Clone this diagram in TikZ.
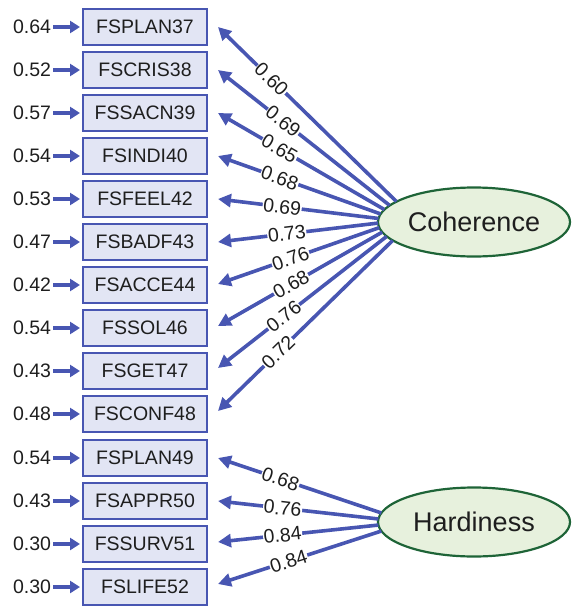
\documentclass[tikz,border=0pt]{standalone}
\usepackage{fontspec}
\setmainfont{Liberation Sans}
\usetikzlibrary{arrows.meta,shapes.geometric,calc}
\definecolor{pathblue}{RGB}{72,86,178}
\definecolor{boxfill}{RGB}{226,229,244}
\definecolor{latfill}{RGB}{231,241,221}
\definecolor{latline}{RGB}{30,100,55}
\definecolor{ink}{RGB}{30,30,30}
\begin{document}
\begin{tikzpicture}[x=1pt,y=-1pt,
  indicator/.style={draw=pathblue, line width=2pt, fill=boxfill,
    minimum width=124pt, minimum height=36pt, inner sep=0pt,
    font=\fontsize{19.5}{22}\selectfont, text=ink},
  latent/.style={ellipse, draw=latline, line width=2.2pt, fill=latfill,
    minimum width=192pt, minimum height=69pt, inner sep=0pt,
    font=\fontsize{27}{30}\selectfont, text=ink},
  errlabel/.style={font=\fontsize{19.5}{22}\selectfont, text=ink, inner sep=2pt},
  errarrow/.style={draw=pathblue, line width=3.6pt, -{Triangle[length=10pt,width=12pt]}},
  loading/.style={draw=pathblue, line width=3.6pt, -{Triangle[length=13pt,width=13pt]}},
  coef/.style={sloped, fill=white, inner sep=0.6pt,
    font=\fontsize{19.5}{22}\selectfont, text=ink}
]
\useasboundingbox (0,0) rectangle (572,608);

% latent factors
\node[latent] (coh) at (474,222) {Coherence};
\node[latent] (har) at (474,522) {Hardiness};

% indicators with their error variances
\foreach \n/\y/\e [count=\i] in {
  FSPLAN37/27/0.64, FSCRIS38/70/0.52, FSSACN39/113/0.57, FSINDI40/156/0.54,
  FSFEEL42/199/0.53, FSBADF43/242/0.47, FSACCE44/285/0.42, FSSOL46/328/0.54,
  FSGET47/371/0.43, FSCONF48/414/0.48, FSPLAN49/458/0.54, FSAPPR50/501/0.43,
  FSSURV51/544/0.30, FSLIFE52/587/0.30} {
  \node[indicator] (b\i) at (145,\y) {\n};
  \node[errlabel] (e\i) at (32,\y) {\e};
  \draw[errarrow] (e\i.east) -- ([xshift=-2pt]b\i.west);
}

% loadings of Coherence
\foreach \i/\ang/\c/\p/\dy in {
  1/144/0.60/0.70/0, 2/151.6/0.69/0.62/0, 3/159.1/0.65/0.63/0,
  4/166.7/0.68/0.62/0, 5/174.2/0.69/0.60/0, 6/181.8/0.73/0.57/0,
  7/189.3/0.76/0.55/1, 8/196.9/0.68/0.555/2, 9/204.4/0.76/0.61/3,
  10/212/0.72/0.655/3} {
  \coordinate (cs\i) at ($(coh.center)+({96*cos(\ang)},{-35*sin(\ang)})$);
  \draw[loading] (cs\i) -- node[coef,pos=\p] {\c} ([xshift=10pt,yshift=\dy pt]b\i.east);
}

% loadings of Hardiness
\foreach \i/\ang/\c/\p/\dy in {
  11/165/0.68/0.617/0, 12/175/0.76/0.597/0,
  13/185/0.84/0.597/2, 14/195/0.84/0.568/3} {
  \coordinate (hs\i) at ($(har.center)+({96*cos(\ang)},{-35*sin(\ang)})$);
  \draw[loading] (hs\i) -- node[coef,pos=\p] {\c} ([xshift=10pt,yshift=\dy pt]b\i.east);
}
\end{tikzpicture}
\end{document}
